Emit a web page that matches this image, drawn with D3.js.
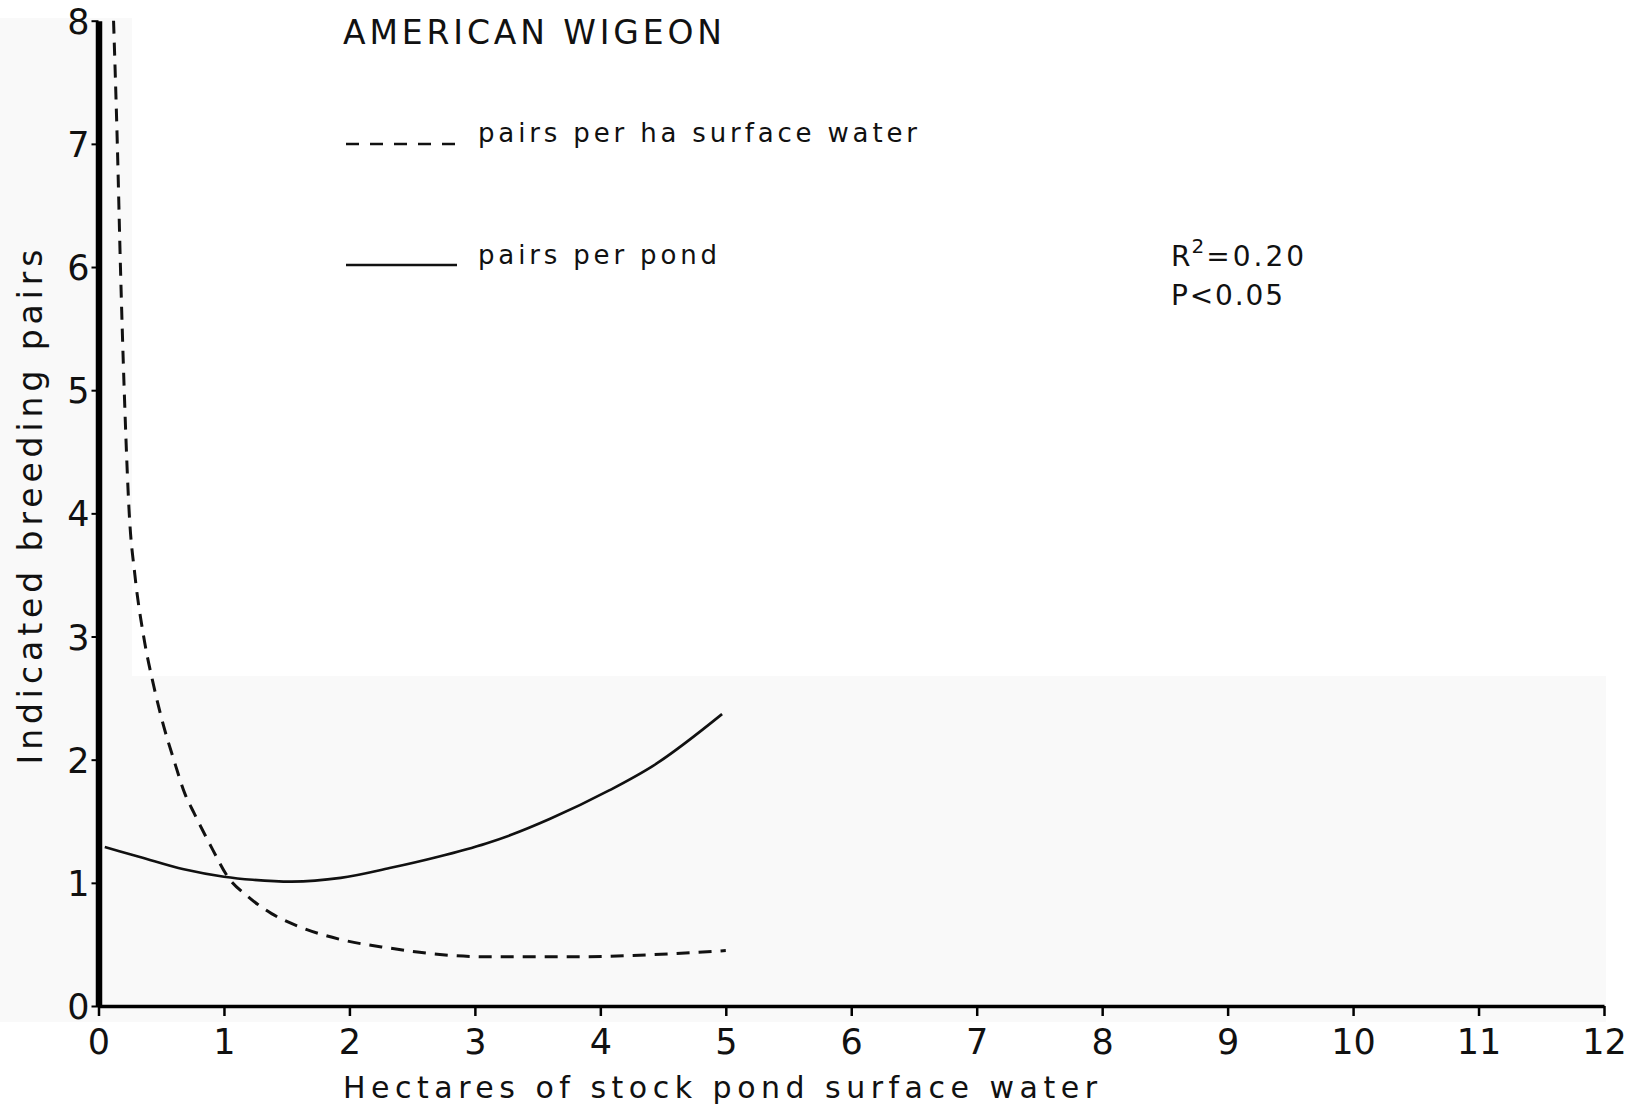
<!DOCTYPE html>
<html>
<head>
<meta charset="utf-8">
<script src="https://cdn.jsdelivr.net/npm/d3@7"></script>
<style>
  html, body { margin: 0; padding: 0; background: #ffffff; }
  svg { display: block; }
  text { fill: #111; font-family: "DejaVu Sans", sans-serif; }
</style>
</head>
<body>
<svg id="chart" width="1630" height="1109"></svg>
<script>
// Stock pond surface area (ha) and fitted American Wigeon breeding pairs
const xTicks = [0, 1, 2, 3, 4, 5, 6, 7, 8, 9, 10, 11, 12];
const yTicks = [0, 1, 2, 3, 4, 5, 6, 7, 8];

// pairs per pond (solid curve)
const pondHectares = [0.05, 0.33, 0.68, 1.0, 1.23, 1.54, 1.93, 2.32, 2.70, 3.09, 3.29, 3.60, 4.07, 4.42, 4.97];
const pairsPerPond = [1.29, 1.21, 1.11, 1.05, 1.025, 1.01, 1.04, 1.12, 1.21, 1.32, 1.39, 1.52, 1.75, 1.95, 2.37];

// pairs per ha surface water (dashed curve)
const haHectares = [0.12, 0.15, 0.175, 0.205, 0.245, 0.29, 0.36, 0.44, 0.52, 0.6, 0.69, 0.76, 0.91, 1.03, 1.19, 1.38, 1.61, 1.93, 2.32, 2.70, 3.09, 3.48, 3.87, 4.26, 5.0];
const pairsPerHa = [8, 7, 6, 5, 4, 3.5, 3.0, 2.6, 2.27, 2.0, 1.72, 1.57, 1.27, 1.05, 0.89, 0.75, 0.64, 0.54, 0.47, 0.42, 0.40, 0.40, 0.40, 0.41, 0.45];

const titleText = "AMERICAN WIGEON";
const legendLabels = ["pairs per ha surface water", "pairs per pond"];
const xTitle = "Hectares of stock pond surface water";
const yTitle = "Indicated breeding pairs";
const r2Value = "0.20";
const pValue = "0.05";

const svg = d3.select("#chart");

const x = d3.scaleLinear().domain([0, 12]).range([98.5, 1604]);
const y = d3.scaleLinear().domain([0, 8]).range([1006, 20.7]);

// faint paper tone behind the plot
svg.append("rect").attr("x", 0).attr("y", 18).attr("width", 132).attr("height", 1004).attr("fill", "#f9f9f9");
svg.append("rect").attr("x", 0).attr("y", 676).attr("width", 1606).attr("height", 346).attr("fill", "#f9f9f9");

// y axis
const yAxis = svg.append("g")
  .attr("transform", `translate(${x(0)},0)`)
  .call(d3.axisLeft(y).tickValues(yTicks).tickSize(7).tickSizeOuter(0).tickPadding(2).tickFormat(d3.format("d")));
yAxis.select(".domain").attr("stroke", "#000").attr("stroke-width", 6.5);
yAxis.selectAll(".tick line").attr("stroke", "#000").attr("stroke-width", 2);
yAxis.selectAll(".tick text")
  .attr("font-size", 35).attr("font-family", "DejaVu Sans, sans-serif").attr("fill", "#111").attr("dy", "0.36em");

// x axis
const xAxis = svg.append("g")
  .attr("transform", `translate(0,${y(0)})`)
  .call(d3.axisBottom(x).tickValues(xTicks).tickSize(10).tickSizeOuter(0).tickFormat(d3.format("d")));
xAxis.select(".domain").attr("stroke", "#000").attr("stroke-width", 3.5);
xAxis.selectAll(".tick line").attr("stroke", "#000").attr("stroke-width", 2.5);
xAxis.selectAll(".tick text")
  .attr("font-size", 35).attr("font-family", "DejaVu Sans, sans-serif").attr("fill", "#111")
  .attr("y", 48).attr("dy", 0);

// curves
const curveLine = d3.line().x(d => x(d[0])).y(d => y(d[1])).curve(d3.curveMonotoneX);
svg.append("path")
  .datum(d3.zip(haHectares, pairsPerHa))
  .attr("d", curveLine)
  .attr("fill", "none").attr("stroke", "#111").attr("stroke-width", 3)
  .attr("stroke-dasharray", "13,9");

svg.append("path")
  .datum(d3.zip(pondHectares, pairsPerPond))
  .attr("d", curveLine)
  .attr("fill", "none").attr("stroke", "#111").attr("stroke-width", 2.6);

// title
svg.append("text").attr("x", 343).attr("y", 44)
  .attr("font-size", 33).attr("textLength", 379).attr("lengthAdjust", "spacing")
  .text(titleText);

// legend
svg.append("line").attr("x1", 346).attr("x2", 457).attr("y1", 144).attr("y2", 144)
  .attr("stroke", "#111").attr("stroke-width", 2.6).attr("stroke-dasharray", "13,11");
svg.append("text").attr("x", 478).attr("y", 142)
  .attr("font-size", 26).attr("textLength", 439).attr("lengthAdjust", "spacing")
  .text(legendLabels[0]);
svg.append("line").attr("x1", 346).attr("x2", 457).attr("y1", 265).attr("y2", 265)
  .attr("stroke", "#111").attr("stroke-width", 2.6);
svg.append("text").attr("x", 478).attr("y", 264)
  .attr("font-size", 26).attr("textLength", 239).attr("lengthAdjust", "spacing")
  .text(legendLabels[1]);

// statistics
const r2 = svg.append("text").attr("x", 1171).attr("y", 266).attr("font-size", 28);
r2.append("tspan").text("R");
r2.append("tspan").attr("font-size", 20).attr("dy", -13).attr("dx", 1).text("2");
r2.append("tspan").attr("dy", 13).attr("dx", 2).attr("letter-spacing", 3).text("=" + r2Value);
svg.append("text").attr("x", 1171).attr("y", 305).attr("font-size", 28)
  .attr("textLength", 112).attr("lengthAdjust", "spacing")
  .text("P<" + pValue);

// axis titles
svg.append("text").attr("x", 720).attr("y", 1098)
  .attr("font-size", 30).attr("text-anchor", "middle")
  .attr("textLength", 754).attr("lengthAdjust", "spacing")
  .text(xTitle);
svg.append("text")
  .attr("transform", "translate(42,507) rotate(-90)")
  .attr("font-size", 33).attr("text-anchor", "middle")
  .attr("textLength", 515).attr("lengthAdjust", "spacing")
  .text(yTitle);
</script>
</body>
</html>
